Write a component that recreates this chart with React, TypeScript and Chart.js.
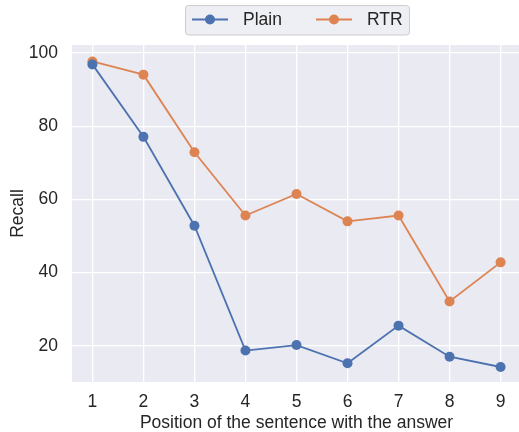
import React, { useEffect, useRef } from "react";
import { Chart, registerables } from "chart.js";

Chart.register(...registerables);

const positions = [1, 2, 3, 4, 5, 6, 7, 8, 9];
const plainRecall = [96.9, 77.1, 52.8, 18.7, 20.2, 15.2, 25.5, 17.0, 14.2];
const rtrRecall = [97.7, 94.1, 72.9, 55.6, 61.5, 54.0, 55.6, 32.1, 42.8];
const seriesNames = ["Plain", "RTR"];
const seriesColors = ["#4c72b0", "#dd8452"];
const xTicks = [1, 2, 3, 4, 5, 6, 7, 8, 9];
const yTicks = [20, 40, 60, 80, 100];
const xTitle = "Position of the sentence with the answer";
const yTitle = "Recall";

const FONT = "'Liberation Sans', Arial, sans-serif";

const bgPlugin = {
  id: "bgPlugin",
  beforeDraw(chart: any) {
    const { ctx, chartArea } = chart;
    ctx.save();
    ctx.fillStyle = "#eaeaf2";
    ctx.fillRect(chartArea.left, chartArea.top, chartArea.right - chartArea.left, chartArea.bottom - chartArea.top);
    ctx.restore();
  },
};

const legendPlugin = {
  id: "customLegend",
  afterDraw(chart: any) {
    const { ctx } = chart;
    ctx.save();
    const bx = 185.5, by = 5.5, bw = 224, bh = 29.5;
    ctx.fillStyle = "rgba(234,234,242,0.8)";
    ctx.strokeStyle = "#cccccc";
    ctx.lineWidth = 1;
    ctx.beginPath();
    ctx.roundRect(bx, by, bw, bh, 3);
    ctx.fill();
    ctx.stroke();
    const starts = [192, 316];
    const cy = 19.5;
    chart.data.datasets.forEach((ds: any, i: number) => {
      const x0 = starts[i];
      ctx.strokeStyle = ds.borderColor;
      ctx.lineWidth = 1.8;
      ctx.beginPath();
      ctx.moveTo(x0, cy);
      ctx.lineTo(x0 + 36, cy);
      ctx.stroke();
      ctx.fillStyle = ds.backgroundColor;
      ctx.beginPath();
      ctx.arc(x0 + 18, cy, 5, 0, Math.PI * 2);
      ctx.fill();
      ctx.fillStyle = "#262626";
      ctx.font = `17.5px ${FONT}`;
      ctx.textBaseline = "middle";
      ctx.textAlign = "left";
      ctx.fillText(ds.label, x0 + 51, cy + 0.5);
    });
    ctx.restore();
  },
};

export default function App() {
  const ref = useRef<HTMLCanvasElement>(null);
  useEffect(() => {
    document.documentElement.style.overflow = "hidden";
    const datasets = [plainRecall, rtrRecall].map((vals, i) => ({
      label: seriesNames[i],
      data: positions.map((p, j) => ({ x: p, y: vals[j] })),
      borderColor: seriesColors[i],
      backgroundColor: seriesColors[i],
      borderWidth: 1.8,
      pointRadius: 5,
      pointBorderWidth: 0,
      pointHoverRadius: 5,
      tension: 0,
    }));
    const chart = new Chart(ref.current!, {
      type: "line",
      data: { datasets },
      options: {
        animation: false,
        responsive: false,
        maintainAspectRatio: false,
        layout: { padding: { left: 0, right: 0, top: 45, bottom: 0 } },
        plugins: { legend: { display: false }, tooltip: { enabled: false } },
        scales: {
          x: {
            type: "linear",
            min: 0.6,
            max: 9.4,
            afterBuildTicks: (s: any) => {
              s.ticks = xTicks.map((v) => ({ value: v }));
            },
            afterFit: (s: any) => {
              s.height = 50;
            },
            grid: { color: "#ffffff", lineWidth: 1.3, drawTicks: false },
            border: { display: false },
            ticks: { color: "#262626", font: { family: FONT, size: 17.5 }, padding: 10, maxRotation: 0 },
            title: { display: true, text: xTitle, color: "#262626", font: { family: FONT, size: 17.5 }, padding: { top: 0, bottom: -2 } },
          },
          y: {
            type: "linear",
            min: 10.1,
            max: 102.2,
            afterBuildTicks: (s: any) => {
              s.ticks = yTicks.map((v) => ({ value: v }));
            },
            afterFit: (s: any) => {
              s.width = 72;
            },
            grid: { color: "#ffffff", lineWidth: 1.3, drawTicks: false },
            border: { display: false },
            ticks: { color: "#262626", font: { family: FONT, size: 17.5 }, padding: 14 },
            title: { display: true, text: yTitle, color: "#262626", font: { family: FONT, size: 17.5 }, padding: { top: 8, bottom: 0 } },
          },
        },
      },
      plugins: [bgPlugin, legendPlugin],
    });
    return () => chart.destroy();
  }, []);
  return (
    <div style={{ position: "fixed", left: 0, top: 0, width: 526, height: 432, overflow: "hidden", background: "#fff" }}>
      <canvas ref={ref} width={526} height={432} style={{ display: "block" }} />
    </div>
  );
}
